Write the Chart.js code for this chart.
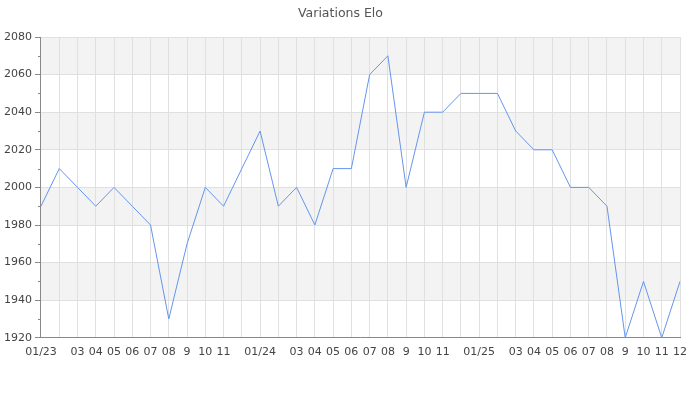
<!DOCTYPE html>
<html>
<head>
<meta charset="utf-8">
<script src="https://cdn.jsdelivr.net/npm/chart.js@4"></script>
<style>
  html, body { margin: 0; padding: 0; background: #fff; }
  #wrap { width: 700px; height: 400px; }
</style>
</head>
<body>
<div id="wrap"><canvas id="eloChart"></canvas></div>
<script>
// mois de janvier 2023 à décembre 2025
const monthLabels = [
  "01/23", "", "03", "04", "05", "06", "07", "08", "9", "10", "11", "",
  "01/24", "", "03", "04", "05", "06", "07", "08", "9", "10", "11", "",
  "01/25", "", "03", "04", "05", "06", "07", "08", "9", "10", "11", "12"
];
const eloValues = [
  1990, 2010, 2000, 1990, 2000, 1990, 1980, 1930, 1970, 2000, 1990, 2010,
  2030, 1990, 2000, 1980, 2010, 2010, 2060, 2070, 2000, 2040, 2040, 2050,
  2050, 2050, 2030, 2020, 2020, 2000, 2000, 1990, 1920, 1950, 1920, 1950
];
const yMin = 1920;
const yMax = 2080;
const yStep = 20;

// bandes grises alternées + petites graduations
const bandsPlugin = {
  id: "bands",
  beforeDraw(chart) {
    const { ctx, chartArea: a, scales: { y } } = chart;
    ctx.save();
    ctx.fillStyle = "#f3f3f3";
    for (let v = yMax; v > yMin; v -= 2 * yStep) {
      const top = y.getPixelForValue(v);
      const bottom = y.getPixelForValue(v - yStep);
      ctx.fillRect(a.left, top, a.right - a.left, bottom - top);
    }
    ctx.restore();
  },
  afterDraw(chart) {
    const { ctx, chartArea: a, scales: { y } } = chart;
    ctx.save();
    ctx.strokeStyle = "#888";
    ctx.lineWidth = 1;
    for (let v = yMin + yStep / 2; v < yMax; v += yStep) {
      const py = Math.round(y.getPixelForValue(v)) + 0.5;
      ctx.beginPath();
      ctx.moveTo(a.left - 3, py);
      ctx.lineTo(a.left, py);
      ctx.stroke();
    }
    ctx.restore();
  }
};

new Chart(document.getElementById("eloChart"), {
  type: "line",
  data: {
    labels: monthLabels,
    datasets: [{
      label: "Elo",
      data: eloValues,
      borderColor: "#6495ed",
      borderWidth: 1,
      pointRadius: 0,
      tension: 0,
      fill: false
    }]
  },
  options: {
    responsive: true,
    maintainAspectRatio: false,
    animation: false,
    layout: { padding: { left: 1, right: 20, top: 0, bottom: 33 } },
    plugins: {
      legend: { display: false },
      tooltip: { enabled: false },
      title: {
        display: true,
        text: "Variations Elo",
        color: "#555",
        font: { family: "DejaVu Sans", size: 12.5, weight: "normal" },
        padding: { top: 6, bottom: 16 }
      }
    },
    scales: {
      x: {
        offset: false,
        grid: { color: "#e0e0e0", drawTicks: false },
        border: { color: "#888" },
        ticks: {
          autoSkip: false,
          maxRotation: 0,
          padding: 8,
          color: "#444",
          font: { family: "DejaVu Sans", size: 11 }
        }
      },
      y: {
        min: yMin,
        max: yMax,
        grid: { color: "#e0e0e0", tickLength: 6, tickColor: "#888" },
        border: { color: "#888" },
        ticks: {
          stepSize: yStep,
          padding: 3,
          color: "#444",
          font: { family: "DejaVu Sans", size: 11 },
          callback: (value) => String(value)
        }
      }
    }
  },
  plugins: [bandsPlugin]
});
</script>
</body>
</html>
